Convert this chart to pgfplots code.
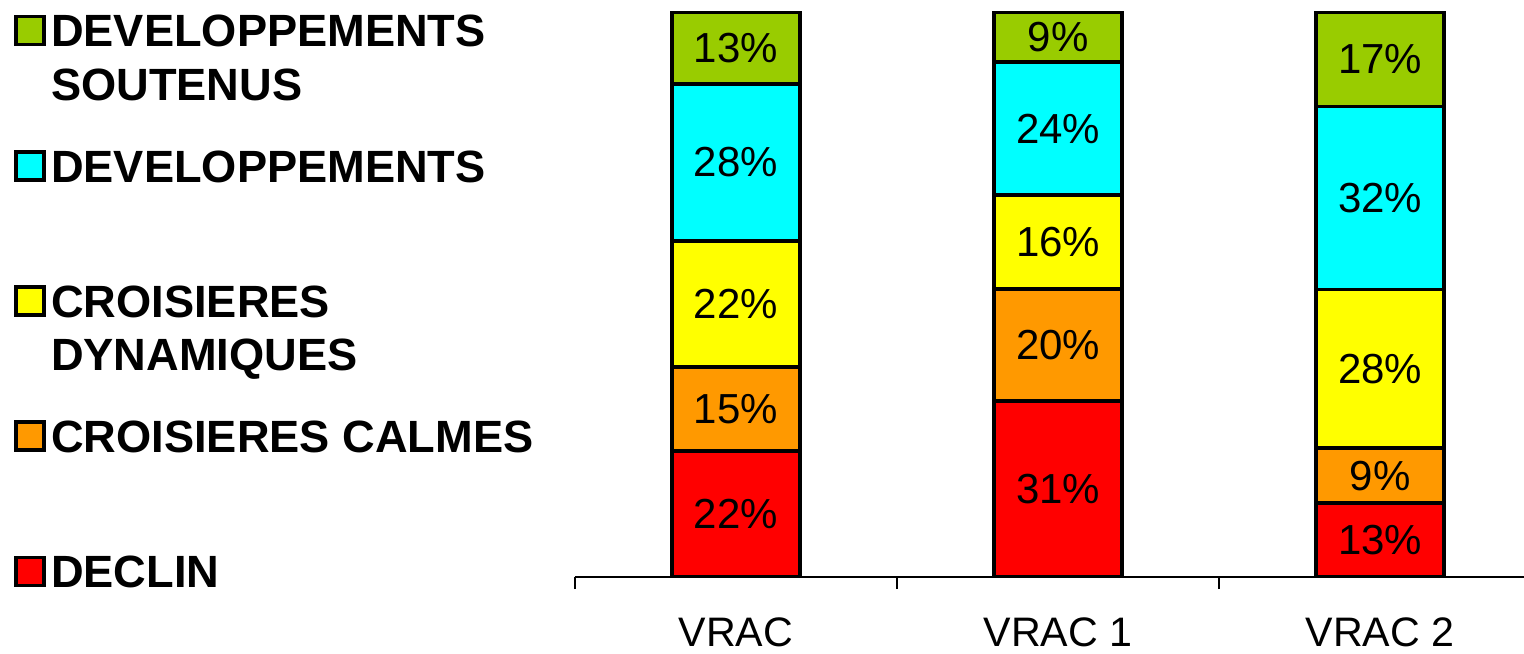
\documentclass[border=0pt]{standalone}
\usepackage{fontspec}
\setmainfont{Liberation Sans}
\usepackage{pgfplots}
\pgfplotsset{compat=1.18}
\definecolor{cSout}{HTML}{99CC00}
\definecolor{cDev}{HTML}{00FFFF}
\definecolor{cDyn}{HTML}{FFFF00}
\definecolor{cCalm}{HTML}{FF9900}
\definecolor{cDecl}{HTML}{FF0000}

% shares per bar, bottom to top (bar heights in percent)
\pgfplotstableread{
x decl calm dyn dev sout
0 22.3 14.9 22.3 27.8 12.7
1 31.2 19.8 16.6 23.5 8.9
2 13.1 9.7 28.1 32.4 16.7
}\shares

\pgfplotsset{
  common/.style={
    scale only axis,
    width=237.25pt, height=141.25pt,
    at={(143.75pt,19.25pt)}, anchor=south west,
    xmin=-0.5, xmax=2.447,
    ymin=0, ymax=100,
  },
}

\begin{document}
\begin{tikzpicture}
\path[use as bounding box] (0,0) rectangle (381pt,163.5pt);
\begin{axis}[
  common,
  ybar stacked,
  bar width=32pt,
  axis y line=none,
  axis x line*=bottom,
  axis line style={line width=0.5pt},
  xtick={0,1,2},
  xticklabels={VRAC, VRAC 1, VRAC 2},
  major tick length=0pt,
  minor xtick={-0.5,0.5,1.5},
  minor tick length=3pt,
  tick align=outside,
  minor tick style={line width=0.5pt, black},
  xticklabel style={font=\fontsize{10.3}{12}\selectfont, anchor=base, yshift=-17.5pt},
  every axis plot/.append style={draw=black, line width=0.9pt},
  every axis plot post/.append style={
    legend image code/.code={\draw[##1, line width=0.9pt] (0pt,-3.5pt) rectangle (7pt,3.5pt);}},
  reverse legend,
  legend cell align=left,
  legend style={draw=none, fill=none, inner sep=0pt, outer sep=0pt,
    at={(0,1)}, anchor=north west, xshift=-140.25pt, yshift=-0.6pt,
    row sep=25.7pt, column sep=1.4pt,
    nodes={inner sep=0pt, text height=8.1pt, text depth=0pt,
      font=\fontsize{11.3}{13.4}\selectfont\bfseries}},
]
\addplot[fill=cDecl] table[x=x, y=decl] {\shares};
\addlegendentry{DECLIN}
\addplot[fill=cCalm] table[x=x, y=calm] {\shares};
\addlegendentry{CROISIERES CALMES}
\addplot[fill=cDyn] table[x=x, y=dyn] {\shares};
\addlegendentry{\begin{tabular}[t]{@{}l@{}}CROISIERES\\DYNAMIQUES\end{tabular}}
\addplot[fill=cDev] table[x=x, y=dev] {\shares};
\addlegendentry{DEVELOPPEMENTS}
\addplot[fill=cSout] table[x=x, y=sout] {\shares};
\addlegendentry{\begin{tabular}[t]{@{}l@{}}DEVELOPPEMENTS\\SOUTENUS\end{tabular}}
\end{axis}

% percentage labels, at the middle of each segment
\begin{axis}[
  common,
  hide axis,
]
\addplot[draw=none, nodes near coords, point meta=explicit symbolic,
  every node near coord/.style={anchor=center, font=\fontsize{10.5}{12}\selectfont}]
  coordinates {
  (0,11.15) [22\%] (0,29.75) [15\%] (0,48.35) [22\%] (0,73.4) [28\%] (0,93.65) [13\%]
  (1,15.6) [31\%] (1,41.1) [20\%] (1,59.3) [16\%] (1,79.35) [24\%] (1,95.55) [9\%]
  (2,6.55) [13\%] (2,17.95) [9\%] (2,36.85) [28\%] (2,67.1) [32\%] (2,91.65) [17\%]
  };
\end{axis}
\end{tikzpicture}
\end{document}
